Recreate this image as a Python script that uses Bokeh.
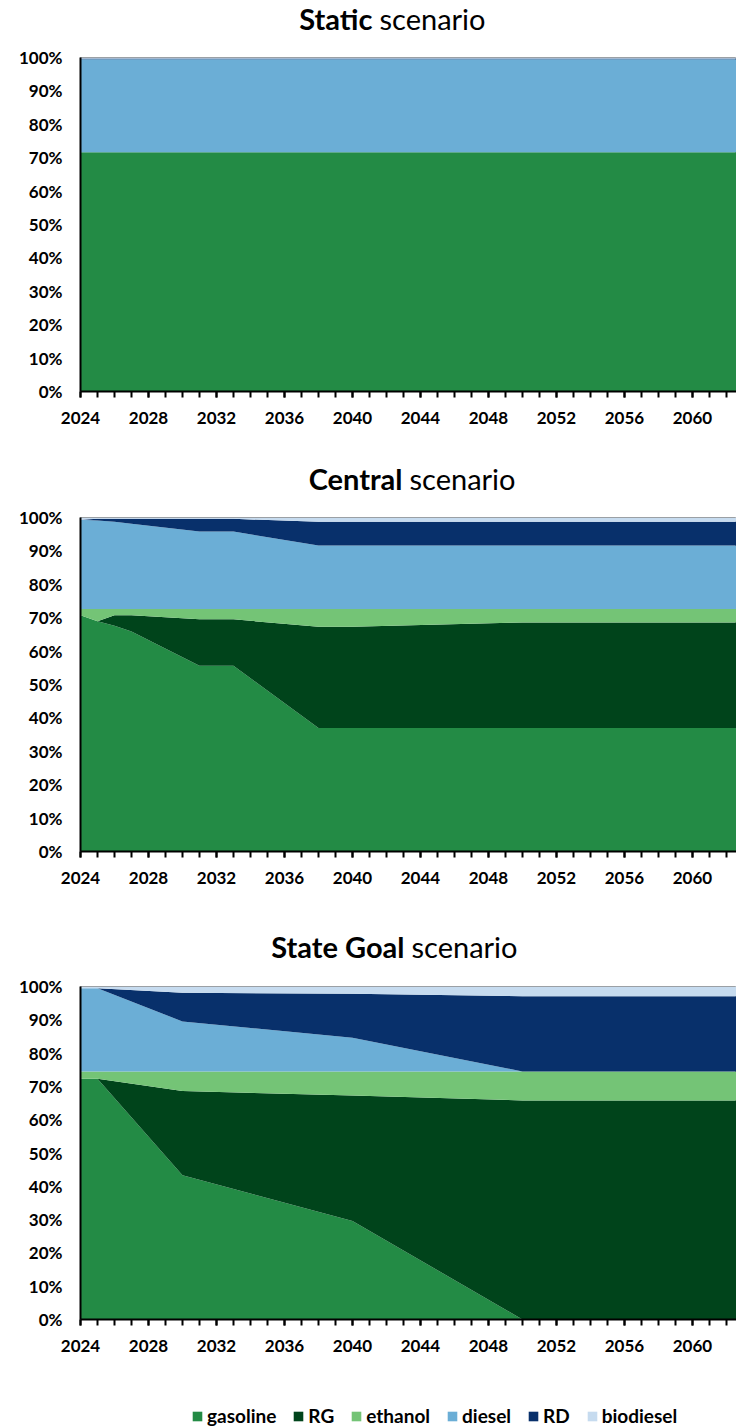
from bokeh.plotting import figure
from bokeh.models import (Range1d, FixedTicker, NumeralTickFormatter, Label,
                          Legend, LegendItem, ColumnDataSource)
from bokeh.layouts import column
from bokeh.embed import file_html
from bokeh.resources import INLINE

# ---------------- data ----------------
fuels = ["gasoline", "RG", "ethanol", "diesel", "RD", "biodiesel"]
colors = ["#238B45", "#00441B", "#74C476", "#6BAED6", "#08306B", "#C6DBEF"]

x_ticks = [2024, 2028, 2032, 2036, 2040, 2044, 2048, 2052, 2056, 2060]
x_minor = list(range(2024, 2066))
y_ticks = [0.0, 0.1, 0.2, 0.3, 0.4, 0.5, 0.6, 0.7, 0.8, 0.9, 1.0]

static_years = [2024, 2065]
static_gasoline = [0.716, 0.716]
static_RG = [0.0, 0.0]
static_ethanol = [0.0, 0.0]
static_diesel = [0.279, 0.279]
static_RD = [0.002, 0.002]
static_biodiesel = [0.003, 0.003]

central_years = [2024, 2025, 2026, 2027, 2031, 2033, 2038, 2040, 2050, 2065]
central_gasoline = [0.707, 0.689, 0.676, 0.659, 0.556, 0.556, 0.370, 0.370, 0.370, 0.370]
central_RG = [0.0, 0.0, 0.031, 0.048, 0.139, 0.139, 0.303, 0.303, 0.316, 0.316]
central_ethanol = [0.019, 0.037, 0.019, 0.019, 0.031, 0.031, 0.053, 0.053, 0.040, 0.040]
central_diesel = [0.267, 0.265, 0.261, 0.255, 0.232, 0.232, 0.190, 0.190, 0.190, 0.190]
central_RD = [0.0, 0.005, 0.009, 0.015, 0.038, 0.038, 0.071, 0.071, 0.071, 0.071]
central_biodiesel = [0.007, 0.004, 0.004, 0.004, 0.004, 0.004, 0.013, 0.013, 0.013, 0.013]

goal_years = [2024, 2025, 2030, 2040, 2050, 2065]
goal_gasoline = [0.723, 0.723, 0.433, 0.296, 0.0, 0.0]
goal_RG = [0.0, 0.0, 0.253, 0.377, 0.658, 0.658]
goal_ethanol = [0.022, 0.022, 0.059, 0.072, 0.087, 0.087]
goal_diesel = [0.250, 0.250, 0.150, 0.101, 0.0, 0.0]
goal_RD = [0.0, 0.0, 0.086, 0.132, 0.226, 0.226]
goal_biodiesel = [0.005, 0.005, 0.019, 0.022, 0.029, 0.029]

titles_bold = ["Static", "Central", "State Goal"]
title_rest = "scenario"

FONT = "Lato"
W = 736
LEFT = 80           # left edge of every plot frame (page px)
X0, X1 = 2024, 2062.59


def title_strip(bold, split_x, height, center_from_top):
    # frames in a column are aligned, so this frame spans LEFT..W; use page px as data
    t = figure(width=W, height=height, output_backend="svg", toolbar_location=None,
               x_range=Range1d(LEFT, W), y_range=Range1d(0, height),
               x_axis_type=None, y_axis_type=None,
               min_border_left=LEFT, min_border_right=0, min_border_top=0, min_border_bottom=0)
    t.grid.visible = False
    t.outline_line_color = None
    ty = height - center_from_top
    t.add_layout(Label(x=split_x, y=ty, text=bold, text_align="right", text_baseline="middle",
                       text_font=FONT, text_font_style="bold", text_font_size="29px",
                       text_color="black"))
    t.add_layout(Label(x=split_x + 7, y=ty, text=title_rest, text_align="left", text_baseline="middle",
                       text_font=FONT, text_font_style="normal", text_font_size="29px",
                       text_color="black"))
    return t


def panel(years, series, height, top, bottom):
    src = ColumnDataSource(dict(year=years, **dict(zip(fuels, series))))
    p = figure(width=W, height=height, output_backend="svg", toolbar_location=None,
               x_range=Range1d(X0, X1), y_range=Range1d(0, 1),
               min_border_left=LEFT, min_border_right=0,
               min_border_top=top, min_border_bottom=bottom)
    p.varea_stack(stackers=fuels, x="year", color=colors, source=src)
    p.grid.visible = False
    p.outline_line_color = "#8c8c8c"
    p.outline_line_width = 1

    xa = p.xaxis[0]
    xa.ticker = FixedTicker(ticks=x_ticks, minor_ticks=x_minor)
    xa.major_tick_in = 0
    xa.minor_tick_in = 0
    xa.major_tick_out = 6
    xa.minor_tick_out = 6
    xa.major_tick_line_width = 2
    xa.minor_tick_line_width = 2
    xa.major_tick_line_color = "black"
    xa.minor_tick_line_color = "black"
    xa.axis_line_width = 2
    xa.axis_line_color = "black"
    xa.major_label_text_font = FONT
    xa.major_label_text_font_style = "bold"
    xa.major_label_text_font_size = "17px"
    xa.major_label_text_color = "black"
    xa.major_label_standoff = 14

    ya = p.yaxis[0]
    ya.ticker = FixedTicker(ticks=y_ticks)
    ya.formatter = NumeralTickFormatter(format="0%")
    ya.major_tick_in = 0
    ya.major_tick_out = 0
    ya.minor_tick_out = 0
    ya.axis_line_width = 2
    ya.axis_line_color = "black"
    ya.major_label_text_font = FONT
    ya.major_label_text_font_style = "bold"
    ya.major_label_text_font_size = "17px"
    ya.major_label_text_color = "black"
    ya.major_label_standoff = 18
    return p


t1 = title_strip(titles_bold[0], 372, 40, 18)
p1 = panel(static_years,
           [static_gasoline, static_RG, static_ethanol, static_diesel, static_RD, static_biodiesel],
           400, 17, 49)
t2 = title_strip(titles_bold[1], 402, 60, 38)
p2 = panel(central_years,
           [central_gasoline, central_RG, central_ethanol, central_diesel, central_RD, central_biodiesel],
           400, 17, 49)
t3 = title_strip(titles_bold[2], 404, 69, 46)
p3 = panel(goal_years,
           [goal_gasoline, goal_RG, goal_ethanol, goal_diesel, goal_RD, goal_biodiesel],
           391, 17, 41)

# legend strip (its frame also starts at LEFT)
lp = figure(width=W, height=68, output_backend="svg", toolbar_location=None,
            x_range=Range1d(0, 1), y_range=Range1d(0, 1),
            x_axis_type=None, y_axis_type=None,
            min_border_left=LEFT, min_border_right=0, min_border_top=0, min_border_bottom=0)
lp.grid.visible = False
lp.outline_line_color = None
items = []
for f, c in zip(fuels, colors):
    r = lp.varea(x=[-10, -9], y1=[-10, -10], y2=[-9, -9], fill_color=c)
    items.append(LegendItem(label=f, renderers=[r]))
leg = Legend(items=items, orientation="horizontal", location=(191 - LEFT, 1),
             padding=0, margin=0, spacing=16, glyph_width=12, glyph_height=12,
             label_standoff=4, label_height=20, label_text_font=FONT,
             label_text_font_style="bold", label_text_font_size="19px",
             label_text_color="black", border_line_color=None,
             background_fill_alpha=0)
lp.add_layout(leg)

layout = column(t1, p1, t2, p2, t3, p3, lp, spacing=0)
open("out.html", "w").write(file_html(layout, INLINE))
